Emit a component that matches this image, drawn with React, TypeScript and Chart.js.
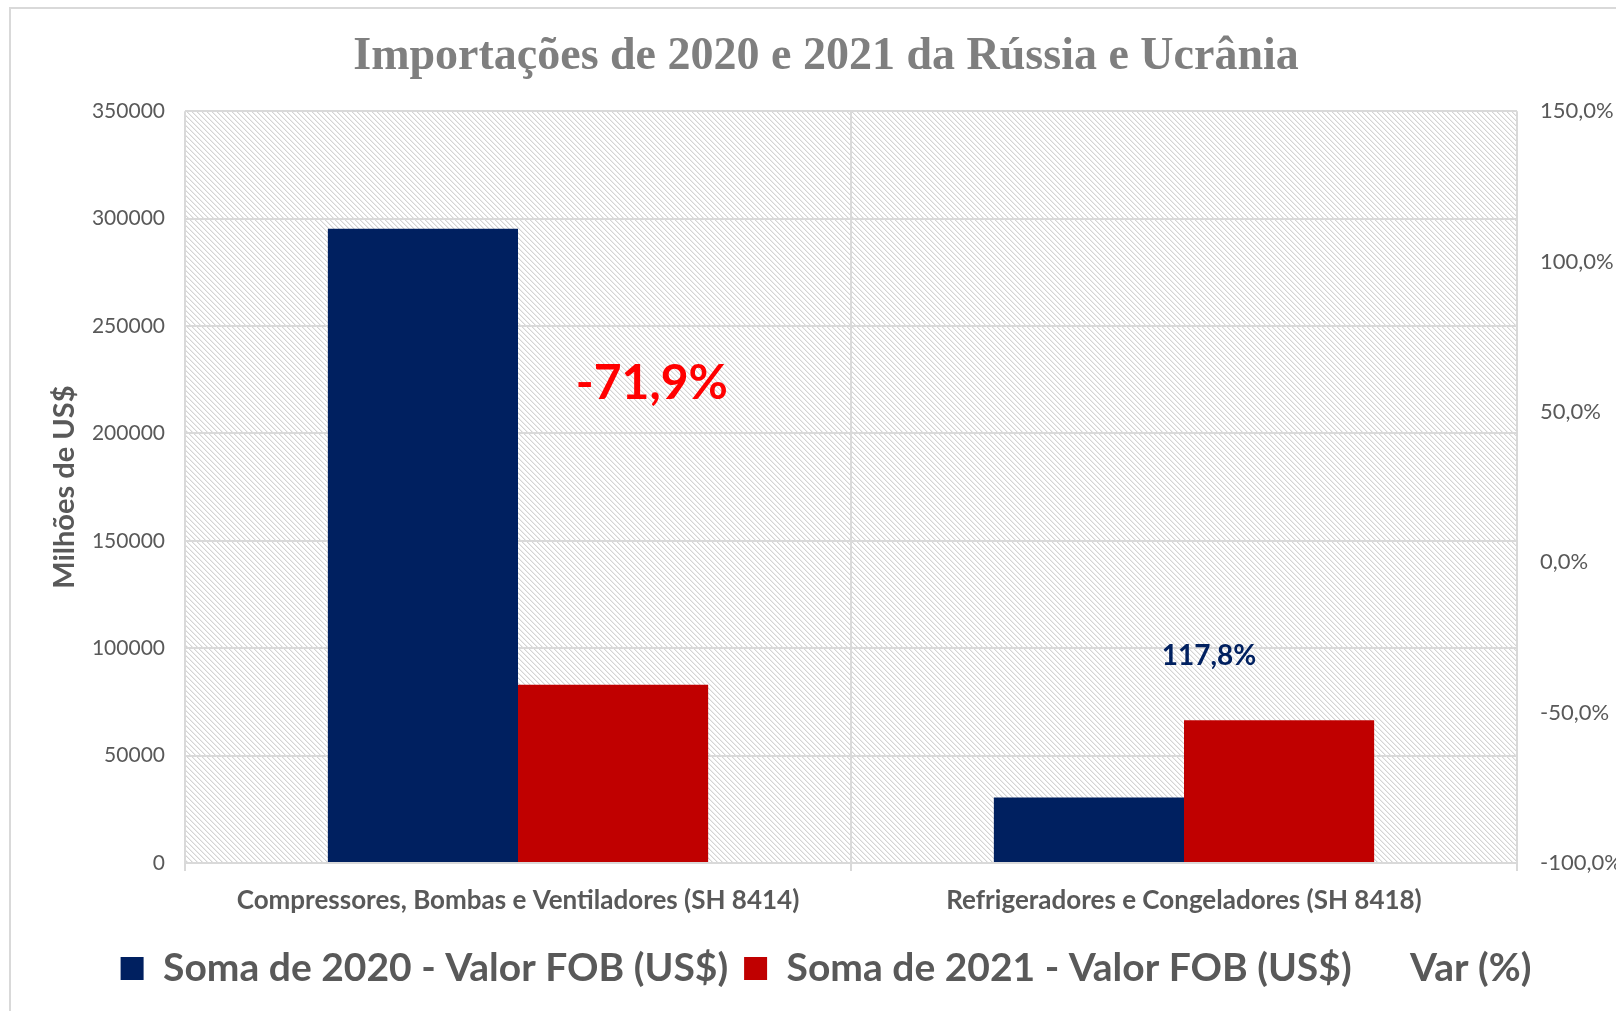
import React, { useEffect, useRef } from "react";
import { Chart, registerables } from "chart.js";

Chart.register(...registerables);

const titleText = "Importações de 2020 e 2021 da Rússia e Ucrânia";
const categories = [
  "Compressores, Bombas e Ventiladores (SH 8414)",
  "Refrigeradores e Congeladores (SH 8418)",
];
const seriesNames = [
  "Soma de 2020 - Valor FOB (US$)",
  "Soma de 2021 - Valor FOB (US$)",
  "Var (%)",
];
const values2020 = [295300, 30500];
const values2021 = [83000, 66400];
const varPct = [-71.9, 117.8];
const varLabels = ["-71,9%", "117,8%"];
const leftAxis = { min: 0, max: 350000, step: 50000, title: "Milhões de US$" };
const rightAxis = { min: -100, max: 150, step: 50 };

const GRAY = "#595959";
const GRID = "#d9d9d9";

function makePattern(ctx: CanvasRenderingContext2D) {
  const n = 5;
  const c = document.createElement("canvas");
  c.width = n;
  c.height = n;
  const g = c.getContext("2d")!;
  g.fillStyle = "#ffffff";
  g.fillRect(0, 0, n, n);
  for (let i = 0; i < n; i++) {
    g.fillStyle = "#d4d4d4";
    g.fillRect(i, i, 1, 1);
    g.fillStyle = "#ededed";
    g.fillRect((i + 1) % n, i, 1, 1);
  }
  return ctx.createPattern(c, "repeat");
}

const hatchPlugin = {
  id: "hatch",
  beforeDraw(chart: any) {
    const { ctx, chartArea } = chart;
    const p = makePattern(ctx);
    if (!p) return;
    ctx.save();
    ctx.fillStyle = p;
    ctx.fillRect(chartArea.left, chartArea.top, chartArea.right - chartArea.left, chartArea.bottom - chartArea.top);
    ctx.restore();
  },
};

// Var (%) labels, placed like the manually moved labels of the original
const varLabelStyle = [
  { color: "#ff0000", size: 48, anchorValue: 223000, dx: 0.201 },
  { color: "#002060", size: 28, anchorValue: 96300, dx: 0.0375 },
];

const varLabelPlugin = {
  id: "varLabels",
  afterDatasetsDraw(chart: any) {
    const { ctx, scales } = chart;
    const xs = scales.x;
    const ys = scales.y;
    const catW = (chart.chartArea.right - chart.chartArea.left) / categories.length;
    ctx.save();
    ctx.textAlign = "center";
    ctx.textBaseline = "middle";
    varLabels.forEach((t, i) => {
      const st = varLabelStyle[i];
      const x = xs.getPixelForValue(i) + st.dx * catW;
      const y = ys.getPixelForValue(st.anchorValue);
      ctx.font = `bold ${st.size}px Lato`;
      ctx.fillStyle = st.color;
      ctx.fillText(t, x, y);
    });
    ctx.restore();
  },
};

export default function App() {
  const ref = useRef<HTMLCanvasElement | null>(null);
  useEffect(() => {
    if (!ref.current) return;
    const chart = new Chart(ref.current, {
      type: "bar",
      data: {
        labels: categories,
        datasets: [
          {
            type: "bar",
            label: seriesNames[0],
            data: values2020,
            backgroundColor: "#002060",
            yAxisID: "y",
            categoryPercentage: 0.571,
            barPercentage: 1,
          },
          {
            type: "bar",
            label: seriesNames[1],
            data: values2021,
            backgroundColor: "#C00000",
            yAxisID: "y",
            categoryPercentage: 0.571,
            barPercentage: 1,
          },
          {
            type: "line",
            label: seriesNames[2],
            data: varPct,
            yAxisID: "y1",
            showLine: false,
            pointRadius: 0,
            borderColor: "rgba(0,0,0,0)",
            backgroundColor: "rgba(0,0,0,0)",
            borderWidth: 0,
          },
        ] as any,
      },
      options: {
        responsive: false,
        animation: false,
        layout: { padding: { left: 36, right: 0, top: 0, bottom: 13 } },
        plugins: {
          tooltip: { enabled: false },
          title: {
            display: true,
            text: titleText,
            color: "#7f7f7f",
            font: { family: "'Liberation Serif'", size: 46, weight: "bold" },
            padding: { top: 30, bottom: 26 },
          },
          legend: {
            position: "bottom",
            labels: {
              color: GRAY,
              font: { family: "Lato", size: 39, weight: "bold" },
              boxWidth: 23,
              boxHeight: 23,
              padding: 16,
            },
          },
        },
        scales: {
          x: {
            grid: { offset: true, color: GRID, lineWidth: 2, tickLength: 8 },
            border: { color: GRID, width: 2 },
            ticks: {
              color: GRAY,
              font: { family: "Lato", size: 26, weight: "bold" },
              padding: 14,
            },
            afterFit: (s: any) => {
              s.height = 70;
            },
          },
          y: {
            position: "left",
            min: leftAxis.min,
            max: leftAxis.max,
            grid: { color: GRID, lineWidth: 2, drawTicks: false },
            border: { display: false },
            ticks: {
              stepSize: leftAxis.step,
              color: GRAY,
              font: { family: "Lato", size: 21 },
              padding: 20,
              callback: (v: any) => String(v),
            },
            title: {
              display: true,
              text: leftAxis.title,
              color: GRAY,
              font: { family: "Lato", size: 29, weight: "bold" },
              padding: 11,
            },
            afterFit: (s: any) => {
              s.width = 149;
            },
          },
          y1: {
            position: "right",
            min: rightAxis.min,
            max: rightAxis.max,
            grid: { display: false, drawOnChartArea: false },
            border: { display: false },
            ticks: {
              stepSize: rightAxis.step,
              color: GRAY,
              font: { family: "Lato", size: 22 },
              padding: 15,
              callback: (v: any) => Number(v).toFixed(1).replace(".", ",") + "%",
            },
            afterFit: (s: any) => {
              s.width = 99;
            },
          },
        },
      } as any,
      plugins: [hatchPlugin, varLabelPlugin],
    });
    return () => chart.destroy();
  }, []);

  return (
    <div style={{ position: "fixed", left: 0, top: 0, width: 1616, height: 1011, background: "#fff", overflow: "hidden" }}>
      <canvas ref={ref} width={1616} height={1011} style={{ display: "block" }} />
      <div
        style={{
          position: "absolute",
          left: 9,
          top: 7,
          width: 1640,
          height: 1040,
          borderLeft: "2px solid #d9d9d9",
          borderTop: "2px solid #d9d9d9",
          pointerEvents: "none",
        }}
      />
    </div>
  );
}
